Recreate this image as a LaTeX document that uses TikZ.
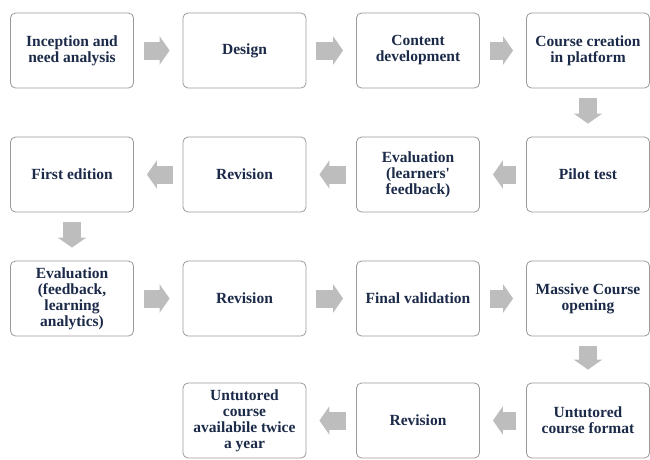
\documentclass[tikz,border=0pt]{standalone}
\usepackage{fontspec}
\setmainfont{Liberation Serif}[Ligatures=TeXOff]
\usetikzlibrary{arrows.meta}
\definecolor{stagetext}{HTML}{1B2A48}
\definecolor{stageline}{HTML}{9A9A9A}
\definecolor{flowgray}{HTML}{BDBDBD}
\tikzset{
	stage/.style={draw=stageline, line width=0.8pt, rounded corners=5pt, fill=white,
		minimum width=123pt, minimum height=75pt, inner sep=2pt, align=center,
		text=stagetext, font=\fontsize{15.5}{16}\selectfont\bfseries},
	flow/.style={draw=flowgray, line width=18pt, -{Triangle[width=28pt,length=10pt]},
		shorten <=10pt, shorten >=13pt}
}

\begin{document}
\begin{tikzpicture}[x=1pt, y=-1pt]
			%%%%% START %%%%%
			\useasboundingbox (0, 0) rectangle (650, 459);
			
			% first row, left to right
			\node[stage] (inception) at (72, 50.5) {Inception and\\need analysis};
			\node[stage] (design) at (244.5, 50.5) {Design};
			\node[stage] (content) at (418, 50.5) {Content\\development};
			\node[stage] (creation) at (588, 50.5) {Course creation\\in platform};
			
			% second row, right to left
			\node[stage] (pilot) at (588, 174.5) {Pilot test};
			\node[stage] (evallearn) at (418, 174.5) {Evaluation\\(learners'\\feedback)};
			\node[stage] (revision1) at (244.5, 174.5) {Revision};
			\node[stage] (firsted) at (72, 174.5) {First edition};
			
			% third row, left to right
			\node[stage] (evalfeed) at (72, 298.5) {Evaluation\\(feedback,\\learning\\analytics)};
			\node[stage] (revision2) at (244.5, 298.5) {Revision};
			\node[stage] (validation) at (418, 298.5) {Final validation};
			\node[stage] (massive) at (588, 298.5) {Massive Course\\opening};
			
			% fourth row, right to left
			\node[stage] (untutored) at (588, 420.5) {Untutored\\course format};
			\node[stage] (revision3) at (418, 420.5) {Revision};
			\node[stage] (available) at (244.5, 420.5) {Untutored\\course\\availabile twice\\a year};
			
			\draw[flow] (inception.east) -- (design.west);
			\draw[flow] (design.east) -- (content.west);
			\draw[flow] (content.east) -- (creation.west);
			\draw[flow] (creation.south) -- (pilot.north);
			
			\draw[flow] (pilot.west) -- (evallearn.east);
			\draw[flow] (evallearn.west) -- (revision1.east);
			\draw[flow] (revision1.west) -- (firsted.east);
			\draw[flow] (firsted.south) -- (evalfeed.north);
			
			\draw[flow] (evalfeed.east) -- (revision2.west);
			\draw[flow] (revision2.east) -- (validation.west);
			\draw[flow] (validation.east) -- (massive.west);
			\draw[flow] (massive.south) -- (untutored.north);
			
			\draw[flow] (untutored.west) -- (revision3.east);
			\draw[flow] (revision3.west) -- (available.east);
			%%%%% END %%%%%
\end{tikzpicture}
\end{document}
